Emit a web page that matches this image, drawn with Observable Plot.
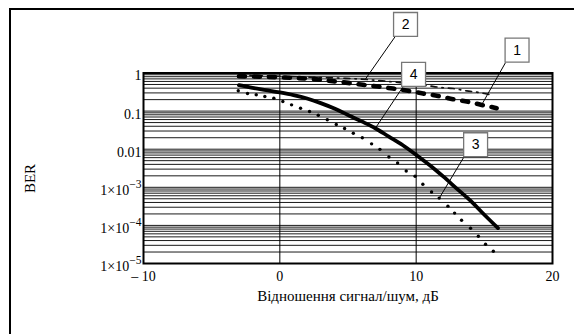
<!DOCTYPE html>
<html><head><meta charset="utf-8">
<script src="https://cdn.jsdelivr.net/npm/d3@7"></script>
<script src="https://cdn.jsdelivr.net/npm/@observablehq/plot@0.6"></script>
<style>
html,body{margin:0;padding:0;background:#fff;}
#wrap{position:relative;width:574px;height:334px;overflow:hidden;}
#wrap svg{position:absolute;left:0;top:0;}
#border{position:absolute;left:8.5px;top:8px;width:600px;height:400px;border-left:2.5px solid #000;border-top:2.5px solid #000;box-sizing:border-box;pointer-events:none}
</style></head><body><div id="wrap"><div id="border"></div></div>
<script>
// Curve 1 (thick dashes)
const snr1 = [-3,-1.5,0,1.8,2.9,3.9,5.0,6.1,7.2,8.3,9.4,10.5,11.6,12.7,13.8,14.9,15.9];
const ber1 = [0.82,0.80,0.77,0.72,0.67,0.61,0.55,0.49,0.44,0.39,0.34,0.29,0.25,0.205,0.175,0.143,0.119];
// Curve 2 (thin dash-dot)
const snr2 = [-3,-1.5,0,1.5,3,4.5,6,7.5,9,10.8,11.7,12.7,13.7,14.8,15.6];
const ber2 = [0.88,0.85,0.82,0.79,0.76,0.73,0.69,0.62,0.55,0.47,0.42,0.39,0.34,0.30,0.26];
// Curve 3 (dots)
const snr3 = [-3.05,-2.37,-1.73,-1.10,-0.44,0.22,0.86,1.52,2.18,2.82,3.48,4.14,4.75,5.39,6.05,6.73,7.34,8.00,8.64,9.27,9.92,10.49,11.13,11.69,12.33,12.82,13.33,13.99,14.56,15.09,15.66];
const ber3 = [0.341,0.290,0.268,0.242,0.218,0.179,0.146,0.119,0.0977,0.0780,0.0592,0.0445,0.0349,0.0263,0.0199,0.0138,0.0099,0.00624,0.00435,0.00268,0.00195,0.00120,7.5e-4,5.2e-4,3.2e-4,2.1e-4,1.36e-4,8.4e-5,5.2e-5,3.2e-5,2.1e-5];
// Curve 4 (solid)
const snr4 = [-3,-2,-1,0,1,2,3,4,5,6,7,8,9,10,11,12,13,14,15,16];
const ber4 = [0.479,0.407,0.355,0.309,0.263,0.214,0.162,0.117,0.0794,0.0537,0.0355,0.0214,0.0129,0.0071,0.0038,0.0019,9.1e-4,4.4e-4,1.9e-4,8.5e-5];

// Axis ticks
const xTicks = [-10,0,10,20];
const xTickLabels = ["– 10","0","10","20"];
const yTicks = [1,0.1,0.01,1e-3,1e-4,1e-5];
const yTickLabels = ["1","0.1","0.01","1×10−3","1×10−4","1×10−5"];
const xTitle = "Відношення сигнал/шум, дБ";
const yTitle = "BER";
const yTitlePos = 1.7e-3;

// Callout labels
const calloutText = ["1","2","3","4"];
const calloutX = [17.4, 9.22, 14.36, 9.81];
const calloutY = [3.97, 18.8, 0.0131, 0.92];
const leaderX1 = [16.56, 8.49, 13.48, 9.0];
const leaderY1 = [1.89, 9.35, 0.00605, 0.417];
const leaderX2 = [14.80, 6.29, 11.69, 7.02];
const leaderY2 = [0.145, 0.70, 5.18e-4, 0.036];

const zip = (xs, ys) => xs.map((x, i) => ({x, y: ys[i]}));
const d1 = zip(snr1, ber1), d2 = zip(snr2, ber2), d3p = zip(snr3, ber3), d4 = zip(snr4, ber4);
const callouts = calloutText.map((t, i) => ({t, x: calloutX[i], y: calloutY[i], x1: leaderX1[i], y1: leaderY1[i], x2: leaderX2[i], y2: leaderY2[i]}));
const yLab = yTicks.map((v, i) => ({v, t: yTickLabels[i]}));

const serif = "'Liberation Serif', 'Times New Roman', serif";
const plot = Plot.plot({
  width: 574, height: 334,
  marginLeft: 143, marginRight: 22, marginTop: 72.5, marginBottom: 71,
  style: {fontFamily: serif, background: "transparent", overflow: "visible"},
  x: {domain: [-10, 20]},
  y: {type: "log", domain: [1e-5, 1], axis: null},
  marks: [
    Plot.gridY({ticks: 60, stroke: "#000", strokeOpacity: 0.9, strokeWidth: 1}),
    Plot.gridX([0, 10], {stroke: "#000", strokeOpacity: 1, strokeWidth: 1}),
    Plot.frame({stroke: "#000", strokeWidth: 2}),
    Plot.axisX({ticks: xTicks, tickFormat: (d, i) => xTickLabels[i], tickSize: 0, tickPadding: 8, fontSize: 14, fontFamily: serif, label: null}),
    Plot.text(yLab, {y: "v", text: "t", frameAnchor: "left", textAnchor: "end", dx: -2, dy: 3, fontSize: 14, fontFamily: serif, className: "ytl"}),
    Plot.text([xTitle], {text: d => d, frameAnchor: "bottom", dy: 37, fontSize: 15, fontFamily: serif}),
    Plot.text([yTitle], {x: () => -10, y: () => yTitlePos, text: d => d, dx: -113, rotate: -90, fontSize: 15, fontFamily: serif}),
    Plot.line(d2, {x: "x", y: "y", stroke: "#111", strokeWidth: 1.6, strokeDasharray: "6,5,1.5,5", curve: "monotone-x"}),
    Plot.line(d1, {x: "x", y: "y", stroke: "#000", strokeWidth: 4.6, strokeDasharray: "6,9", strokeLinecap: "round", curve: "monotone-x"}),
    Plot.line(d4, {x: "x", y: "y", stroke: "#000", strokeWidth: 3.8, curve: "monotone-x"}),
    Plot.dot(d3p, {x: "x", y: "y", r: 1.7, fill: "#000", stroke: null}),
    Plot.link(callouts, {x1: "x1", y1: "y1", x2: "x2", y2: "y2", stroke: "#000", strokeWidth: 1}),
    Plot.dot(callouts, {x: "x", y: "y", symbol: "square", r: 13.5, fill: "#fff", stroke: "#777", strokeWidth: 1.3}),
    Plot.text(callouts, {x: "x", y: "y", text: "t", fontSize: 14, fontFamily: "'Liberation Sans', Arial, sans-serif", fill: "#000"})
  ]
});

// superscript exponents on y tick labels
plot.querySelectorAll('.ytl text').forEach(t => {
  const m = t.textContent.match(/^(1×10)(−\d)$/);
  if (m) {
    t.textContent = m[1];
    const ts = document.createElementNS("http://www.w3.org/2000/svg", "tspan");
    ts.setAttribute("dy", "-7");
    ts.setAttribute("font-size", "11.5");
    ts.textContent = m[2];
    t.appendChild(ts);
  }
});
document.getElementById("wrap").insertBefore(plot, document.getElementById("border"));
</script>
</body></html>
